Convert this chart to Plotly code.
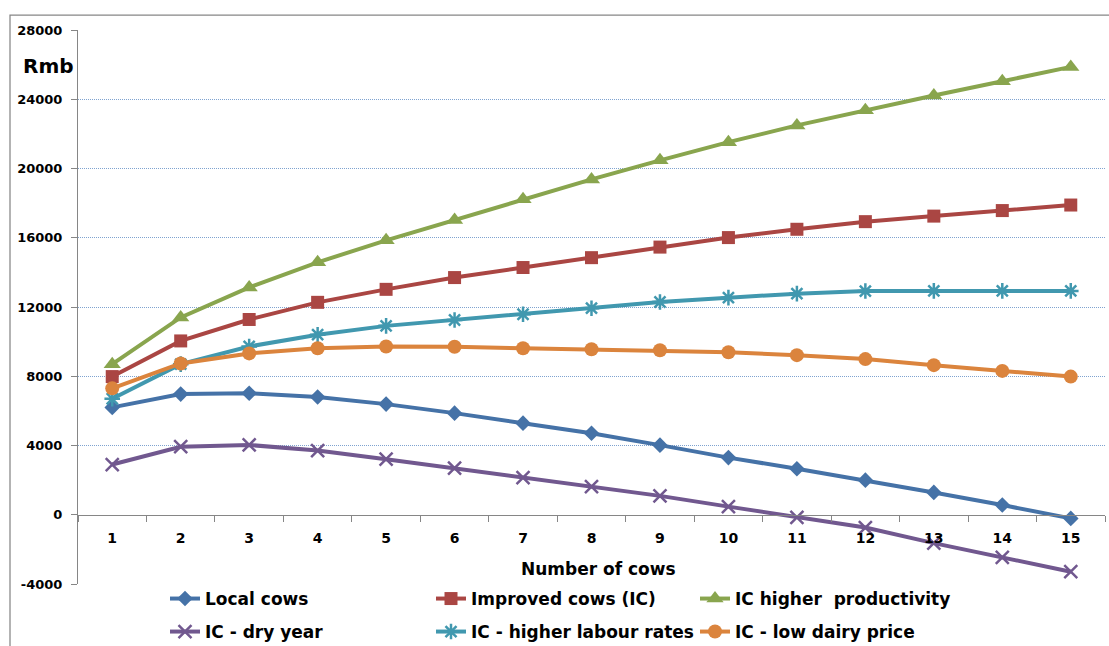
import plotly.graph_objects as go

cows = list(range(1, 16))
local_cows = [6200, 6970, 7020, 6800, 6390, 5870, 5290, 4710, 4020, 3300, 2660, 2000, 1290, 560, -210]
improved_cows = [7980, 10040, 11280, 12270, 13020, 13700, 14280, 14850, 15460, 16010, 16490, 16930, 17250, 17570, 17890]
higher_productivity = [8700, 11400, 13130, 14580, 15850, 17020, 18220, 19370, 20470, 21520, 22490, 23370, 24220, 25040, 25870]
dry_year = [2900, 3930, 4030, 3710, 3210, 2690, 2150, 1630, 1090, 470, -150, -740, -1640, -2460, -3290]
higher_labour = [6700, 8700, 9720, 10400, 10910, 11250, 11580, 11930, 12290, 12540, 12770, 12920, 12930, 12930, 12930]
low_dairy = [7300, 8740, 9320, 9620, 9720, 9700, 9620, 9560, 9500, 9390, 9220, 8990, 8640, 8310, 7980]
y_ticks = [-4000, 0, 4000, 8000, 12000, 16000, 20000, 24000, 28000]

FONT = "DejaVu Sans"
W, H = 1109, 646
ML, MR, MT, MB = 78, 4, 30, 62
PW, PH = W - ML - MR, H - MT - MB


def px_x(p):
    return (p - ML) / PW


def px_y(p):
    return (H - MB - p) / PH


series = [
    ("Local cows", local_cows, "#4572A7", "diamond", 12, "legend", 165, 599),
    ("Improved cows (IC)", improved_cows, "#AA4643", "square", 13, "legend2", 431, 599),
    ("IC higher  productivity", higher_productivity, "#89A54E", "triangle-up", 15, "legend3", 695, 599),
    ("IC - dry year", dry_year, "#71588F", "x-thin", 13, "legend4", 165, 632),
    ("IC - higher labour rates", higher_labour, "#4198AF", "asterisk", 13, "legend5", 431, 632),
    ("IC - low dairy price", low_dairy, "#DB843D", "circle", 14, "legend6", 695, 632),
]

fig = go.Figure()
legends = {}
for name, vals, color, sym, size, leg, lx, ly in series:
    thin = sym in ("x-thin", "asterisk")
    marker = dict(symbol=sym, size=size, color=color)
    if thin:
        marker["line"] = dict(color=color, width=2.5)
    fig.add_trace(go.Scatter(
        x=cows, y=vals, name=name, mode="lines+markers",
        line=dict(color=color, width=4), marker=marker, legend=leg,
    ))
    legends[leg] = dict(
        x=px_x(lx), y=px_y(ly), xanchor="left", yanchor="middle",
        bgcolor="rgba(0,0,0,0)", borderwidth=0,
        font=dict(family=FONT, size=17, color="#000000", weight="bold"),
    )

fig.update_layout(
    width=W, height=H,
    margin=dict(l=ML, r=MR, t=MT, b=MB, autoexpand=False),
    paper_bgcolor="white", plot_bgcolor="white",
    showlegend=True,
    **legends,
)

fig.update_xaxes(
    range=[0.5, 15.5], tickvals=cows, ticktext=[str(c) for c in cows],
    anchor="free", position=0.125, automargin=False,
    showline=True, linecolor="#868686", linewidth=1,
    showgrid=False, zeroline=False,
    ticks="outside", ticklen=10, tickcolor="rgba(0,0,0,0)",
    tickfont=dict(family=FONT, size=14, color="#000000", weight="bold"),
    minor=dict(tickvals=[c + 0.5 for c in range(0, 16)], ticks="outside",
               ticklen=6, tickcolor="#868686", tickwidth=1, showgrid=False),
)
fig.update_yaxes(
    range=[-4000, 28000], tickvals=y_ticks, ticktext=[str(v) for v in y_ticks],
    automargin=False,
    showline=True, linecolor="#868686", linewidth=1,
    ticks="outside", ticklen=6, tickcolor="#868686",
    ticklabelstandoff=6,
    showgrid=False,
    minor=dict(tickvals=[v for v in y_ticks if v != 0], ticks="", showgrid=True,
               gridcolor="#7FA3D0", gridwidth=1, griddash="1px,1px"),
    zeroline=False,
    tickfont=dict(family=FONT, size=13, color="#000000", weight="bold"),
)

fig.add_annotation(text="Rmb", x=px_x(48), y=px_y(66), xref="paper", yref="paper",
                   showarrow=False, xanchor="center", yanchor="middle",
                   font=dict(family=FONT, size=20, color="#000000", weight="bold"))
fig.add_annotation(text="Number of cows", x=px_x(598), y=px_y(569), xref="paper", yref="paper",
                   showarrow=False, xanchor="center", yanchor="middle",
                   font=dict(family=FONT, size=17, color="#000000", weight="bold"))

fig.add_shape(type="rect", xref="paper", yref="paper",
              x0=px_x(10), x1=px_x(1125), y0=px_y(665), y1=px_y(15),
              line=dict(color="#868686", width=1.25), fillcolor="rgba(0,0,0,0)", layer="below")

fig.write_html("out.html")
